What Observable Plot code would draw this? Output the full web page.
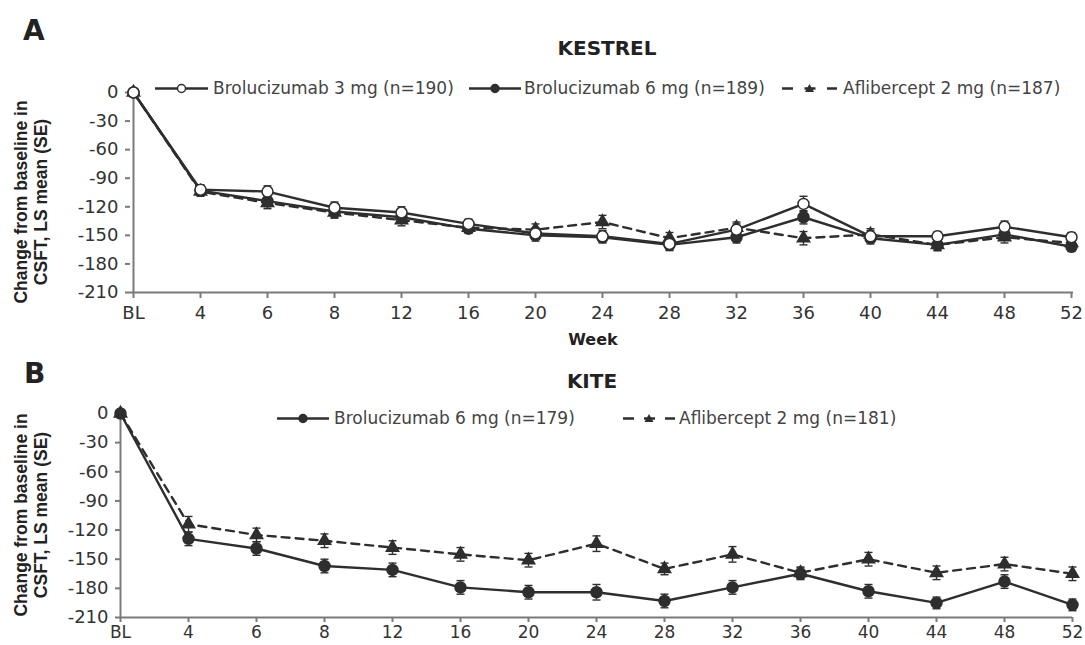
<!DOCTYPE html>
<html><head><meta charset="utf-8">
<script src="https://cdn.jsdelivr.net/npm/d3@7"></script>
<script src="https://cdn.jsdelivr.net/npm/@observablehq/plot@0.6"></script>
<style>
body{margin:0;background:#fff;}
#wrap{position:relative;width:1085px;height:645px;overflow:hidden;background:#fff;font-family:"DejaVu Sans",sans-serif;color:#333;}
.abs{position:absolute;white-space:nowrap;line-height:1;}
.c{transform:translate(-50%,-50%);}
.lg{position:absolute;white-space:nowrap;line-height:1;transform:translateY(-50%);font-size:17px;color:#444;}
.panel{position:absolute;left:0;}
.ylab{position:absolute;white-space:nowrap;font-family:"Liberation Sans",Arial,sans-serif;font-weight:bold;font-size:17.5px;line-height:20px;text-align:center;color:#222;transform:translate(-50%,-50%) rotate(-90deg);}
[aria-label="x-axis tick"],[aria-label="y-axis tick"]{stroke:#7a7a7a;stroke-width:2px;}
</style></head><body><div id="wrap"></div>
<script>
// ---- data ----
const weeks = ["BL","4","6","8","12","16","20","24","28","32","36","40","44","48","52"];
const yTicks = [0,-30,-60,-90,-120,-150,-180,-210];

// KESTREL
const kestrelBro3 = [0,-102,-104,-121,-126,-138,-148,-151,-159,-144,-117,-151,-151,-141,-152];
const kestrelBro3SE = [0,5,6,6,6,5,6,6,6,6,8,6,5,6,5];
const kestrelBro6 = [0,-103,-114,-125,-131,-143,-150,-152,-160,-152,-131,-153,-160,-149,-162];
const kestrelBro6SE = [0,5,6,6,6,5,6,6,6,6,7,6,6,6,5];
const kestrelAfl = [0,-104,-116,-126,-134,-142,-144,-136,-153,-142,-153,-149,-160,-152,-158];
const kestrelAflSE = [0,5,6,6,6,5,6,7,6,6,7,6,6,6,6];
// KITE
const kiteBro6 = [0,-129,-139,-157,-161,-179,-184,-184,-193,-179,-165,-183,-195,-173,-197];
const kiteBro6SE = [0,7,7,7,7,7,7,8,7,7,6,7,6,7,6];
const kiteAfl = [0,-114,-125,-131,-138,-145,-151,-134,-160,-145,-164,-150,-164,-155,-165];
const kiteAflSE = [0,8,7,7,7,7,7,8,6,8,6,7,7,7,7];

const labelsKestrel = ["Brolucizumab 3 mg (n=190)","Brolucizumab 6 mg (n=189)","Aflibercept 2 mg (n=187)"];
const labelsKite = ["Brolucizumab 6 mg (n=179)","Aflibercept 2 mg (n=181)"];

// ---- styling ----
const lineCol = "#2e2e2e";
const axisCol = "#7a7a7a";
const cap = {draw(ctx, size){ const w = Math.sqrt(size/Math.PI); ctx.moveTo(-w,0); ctx.lineTo(w,0); }};

function makePanel(series, o) {
  const marks = [
    Plot.ruleY([-210], {stroke: axisCol, strokeWidth: 2}),
    Plot.ruleX(["BL"], {stroke: axisCol, strokeWidth: 2}),
    Plot.axisX({tickSize: o.xTick, tickPadding: o.xPad, fontSize: o.xFont, label: null, fill: "#333"}),
    Plot.axisY({ticks: yTicks, tickSize: 5, tickPadding: 7, fontSize: 18, label: null, tickFormat: d => String(d), fill: "#333"})
  ];
  for (const s of series) {
    const rows = weeks.map((w, i) => ({week: w, v: s.values[i], se: s.se[i]}));
    const eb = rows.filter(d => d.se > 0);
    marks.push(
      Plot.ruleX(eb, {x: "week", y1: d => d.v - d.se, y2: d => d.v + d.se, stroke: lineCol, strokeWidth: 1.4}),
      Plot.dot(eb, {x: "week", y: d => d.v + d.se, symbol: cap, r: 4, fill: "none", stroke: lineCol, strokeWidth: 1.4}),
      Plot.dot(eb, {x: "week", y: d => d.v - d.se, symbol: cap, r: 4, fill: "none", stroke: lineCol, strokeWidth: 1.4}),
      Plot.line(rows, {x: "week", y: "v", stroke: lineCol, strokeWidth: 2.4, strokeDasharray: s.dash || null}),
      Plot.dot(rows, {x: "week", y: "v", symbol: s.symbol, r: s.r, fill: s.fill, stroke: lineCol, strokeWidth: 1.5})
    );
  }
  return Plot.plot({
    width: 1085, height: o.height,
    marginTop: 13, marginBottom: o.mb, marginLeft: o.ml, marginRight: o.mr,
    style: {fontFamily: "DejaVu Sans, sans-serif", fontSize: "18px", color: "#333", background: "transparent", overflow: "visible"},
    x: {type: "point", domain: weeks, padding: 0},
    y: {domain: [-210, 0]},
    marks
  });
}

const wrap = document.getElementById("wrap");
function addHTML(html){ const d = document.createElement("div"); d.innerHTML = html; while (d.firstChild) wrap.appendChild(d.firstChild); }

const svgA = makePanel([
  {values: kestrelAfl, se: kestrelAflSE, symbol: "triangle", r: 4.6, fill: lineCol, dash: "8,6"},
  {values: kestrelBro6, se: kestrelBro6SE, symbol: "circle", r: 5.5, fill: lineCol},
  {values: kestrelBro3, se: kestrelBro3SE, symbol: "circle", r: 5.5, fill: "#fff"}
], {height: 273, mb: 60, ml: 130, mr: 12, xPad: 8, xTick: 6, xFont: 18});
svgA.classList.add("panel"); svgA.style.top = "79px";
wrap.appendChild(svgA);

const svgB = makePanel([
  {values: kiteAfl, se: kiteAflSE, symbol: "triangle", r: 4.6, fill: lineCol, dash: "8,6"},
  {values: kiteBro6, se: kiteBro6SE, symbol: "circle", r: 5.5, fill: lineCol}
], {height: 245, mb: 28, ml: 120, mr: 13, xPad: 3, xTick: 5, xFont: 17});
svgB.classList.add("panel"); svgB.style.top = "400px";
wrap.appendChild(svgB);

// legend swatches
function swatch(kind, w) {
  const m = w / 2;
  if (kind === "open") return `<svg width="${w}" height="14" style="vertical-align:middle"><line x1="0" y1="7" x2="${w}" y2="7" stroke="${lineCol}" stroke-width="2.4"/><circle cx="${m}" cy="7" r="4" fill="#fff" stroke="${lineCol}" stroke-width="1.5"/></svg>`;
  if (kind === "filled") return `<svg width="${w}" height="14" style="vertical-align:middle"><line x1="0" y1="7" x2="${w}" y2="7" stroke="${lineCol}" stroke-width="2.4"/><circle cx="${m}" cy="7" r="4" fill="${lineCol}" stroke="${lineCol}" stroke-width="1.5"/></svg>`;
  return `<svg width="${w}" height="14" style="vertical-align:middle"><line x1="0" y1="7" x2="${w}" y2="7" stroke="${lineCol}" stroke-width="2.4" stroke-dasharray="11,${m-16}"/><path d="M${m},2.5L${m+4.5},10.5L${m-4.5},10.5Z" fill="${lineCol}"/></svg>`;
}

const rotLabel = "Change from baseline in<br>CSFT, LS mean (SE)";
addHTML(`
<div class="abs" style="left:23px;top:17px;font-size:28px;font-weight:bold;color:#222">A</div>
<div class="abs c" style="left:607px;top:48px;font-size:20px;font-weight:bold;color:#222">KESTREL</div>
<div class="lg" style="left:155px;top:88px">${swatch("open",53)}</div>
<div class="lg" style="left:213px;top:88px">${labelsKestrel[0]}</div>
<div class="lg" style="left:469px;top:88px">${swatch("filled",52)}</div>
<div class="lg" style="left:524px;top:88px">${labelsKestrel[1]}</div>
<div class="lg" style="left:782px;top:88px">${swatch("dash",55)}</div>
<div class="lg" style="left:843px;top:88px">${labelsKestrel[2]}</div>
<div class="ylab" style="left:31px;top:202px">${rotLabel}</div>
<div class="abs c" style="left:593px;top:340px;font-size:16px;font-weight:bold;color:#222">Week</div>
<div class="abs" style="left:24px;top:360px;font-size:28px;font-weight:bold;color:#222">B</div>
<div class="abs c" style="left:592px;top:381px;font-size:20px;font-weight:bold;color:#222">KITE</div>
<div class="lg" style="left:277px;top:418px">${swatch("filled",52)}</div>
<div class="lg" style="left:334px;top:418px">${labelsKite[0]}</div>
<div class="lg" style="left:623px;top:418px">${swatch("dash",52)}</div>
<div class="lg" style="left:679px;top:418px">${labelsKite[1]}</div>
<div class="ylab" style="left:31px;top:515px">${rotLabel}</div>
`);
</script>
</body></html>
